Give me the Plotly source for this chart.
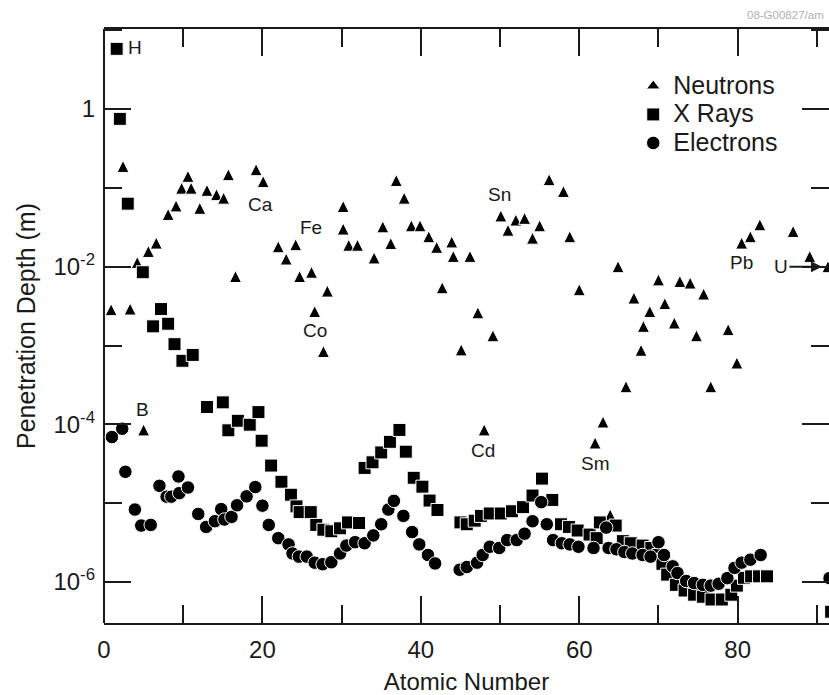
import math
import plotly.graph_objects as go

FONT = "Liberation Sans, Arial, Helvetica, sans-serif"
INK = "#1a1a1a"

# Penetration depth (m) versus atomic number for three kinds of radiation
neutron_z = [0.9, 2.4, 3.3, 4.2, 5.0, 5.6, 6.6, 8.1, 9.1, 9.8, 10.6, 11.0, 12.1, 13.0,
             14.2, 15.1, 15.7, 16.6, 19.2, 20.1, 22.0, 23.0, 24.2, 24.7, 26.2, 26.6,
             27.7, 28.2, 30.2, 30.2, 30.9, 32.0, 34.1, 35.2, 36.2, 36.9, 37.9, 38.8,
             39.9, 41.0, 42.0, 42.7, 43.9, 44.1, 45.1, 46.2, 47.2, 48.0, 49.1, 50.1,
             51.0, 52.0, 53.1, 54.1, 55.0, 56.2, 58.0, 58.8, 60.0, 62.0, 63.0, 63.9,
             64.9, 65.9, 66.9, 67.8, 68.1, 68.9, 70.0, 70.8, 72.0, 72.7, 74.0, 74.8,
             75.7, 76.6, 78.8, 79.9, 80.5, 81.6, 82.8, 87.0, 89.1, 91.4]
neutron_depth = [2.85e-3, 0.187, 2.9e-3, 1.13e-2, 8.5e-5, 1.56e-2, 1.99e-2, 4.6e-2, 5.9e-2,
                 9.9e-2, 0.140, 9.9e-2, 5.5e-2, 9.3e-2, 8.2e-2, 7.4e-2, 0.147, 7.5e-3,
                 0.170, 0.120, 1.79e-2, 1.25e-2, 1.90e-2, 7.5e-3, 8.5e-3, 2.7e-3, 8.4e-4,
                 4.9e-3, 5.8e-2, 3.0e-2, 1.87e-2, 1.87e-2, 1.29e-2, 3.2e-2, 1.97e-2, 0.124,
                 7.4e-2, 3.3e-2, 3.3e-2, 2.4e-2, 1.76e-2, 5.4e-3, 2.06e-2, 1.35e-2, 8.8e-4,
                 1.35e-2, 2.6e-3, 8.5e-5, 1.33e-3, 4.4e-2, 2.9e-2, 3.9e-2, 4.1e-2, 2.3e-2,
                 3.3e-2, 0.127, 9.0e-2, 2.4e-2, 5.1e-3, 5.8e-5, 1.07e-4, 7.1e-6, 1.0e-2,
                 3.0e-4, 4.0e-3, 8.7e-4, 1.75e-3, 2.7e-3, 6.8e-3, 3.4e-3, 1.93e-3, 6.5e-3,
                 6.2e-3, 1.33e-3, 4.5e-3, 3.0e-4, 1.59e-3, 6.0e-4, 1.99e-2, 2.4e-2, 3.4e-2,
                 2.8e-2, 1.35e-2, 1.0e-2]

xray_z = [1.6, 2.0, 3.0, 4.9, 6.2, 7.2, 8.1, 8.9, 9.9, 11.2, 13.0, 15.0, 15.7, 16.9,
          18.4, 19.5, 19.9, 21.1, 22.4, 23.6, 24.3, 24.7, 26.1, 26.8, 27.7, 28.7, 29.8,
          30.8, 32.2, 32.9, 33.9, 35.0, 36.1, 37.3, 38.1, 39.1, 40.2, 41.1, 42.1, 45.0,
          45.8, 46.8, 47.6, 48.7, 50.1, 51.5, 52.9, 54.1, 55.3, 56.6, 57.7, 58.7, 59.8,
          61.3, 62.2, 62.6, 64.6, 65.5, 66.5, 68.0, 69.1, 70.0, 70.5, 71.1, 72.2, 73.3,
          74.5, 75.6, 76.7, 78.0, 79.2, 79.9, 80.8, 81.7, 82.7, 83.7, 91.8]
xray_depth = [5.8, 0.75, 0.063, 8.5e-3, 1.75e-3, 2.9e-3, 1.89e-3, 1.04e-3, 6.4e-4, 7.6e-4,
              1.66e-4, 1.90e-4, 8.4e-5, 1.11e-4, 9.9e-5, 1.43e-4, 6.2e-5, 3.0e-5, 1.87e-5,
              1.28e-5, 9.1e-6, 7.7e-6, 7.7e-6, 5.3e-6, 4.6e-6, 4.4e-6, 4.8e-6, 5.7e-6,
              5.6e-6, 2.8e-5, 3.3e-5, 4.4e-5, 6.0e-5, 8.5e-5, 4.5e-5, 2.1e-5, 1.62e-5,
              1.08e-5, 8.2e-6, 5.7e-6, 5.4e-6, 6.0e-6, 6.9e-6, 7.4e-6, 7.4e-6, 7.9e-6,
              8.9e-6, 1.25e-5, 2.05e-5, 1.10e-5, 5.4e-6, 5.0e-6, 4.5e-6, 4.0e-6, 3.6e-6,
              5.7e-6, 5.2e-6, 3.3e-6, 3.1e-6, 2.9e-6, 2.7e-6, 2.2e-6, 1.70e-6, 1.24e-6,
              9.2e-7, 7.8e-7, 6.9e-7, 6.5e-7, 6.0e-7, 6.0e-7, 6.9e-7, 9.0e-7, 1.13e-6,
              1.18e-6, 1.18e-6, 1.18e-6, 4.2e-7]

electron_z = [1.0, 2.3, 2.7, 3.9, 4.7, 5.9, 7.0, 7.9, 8.5, 9.4, 9.5, 10.6, 11.9, 12.9,
              14.0, 14.8, 15.2, 16.1, 16.8, 18.0, 19.1, 20.0, 20.8, 22.0, 23.3, 23.8,
              24.6, 25.6, 26.6, 27.6, 28.7, 29.8, 30.6, 31.7, 32.9, 34.0, 35.0, 35.9,
              36.6, 37.8, 38.9, 39.8, 40.9, 41.8, 44.9, 45.8, 47.1, 47.8, 48.7, 49.9,
              50.9, 52.1, 53.1, 54.1, 55.2, 55.9, 56.7, 57.8, 58.8, 59.9, 61.8, 63.4,
              63.7, 64.7, 65.7, 66.7, 68.0, 69.0, 70.0, 70.7, 71.8, 72.4, 73.5, 74.5,
              75.6, 76.6, 77.6, 78.7, 79.6, 80.5, 81.6, 82.9, 91.6]
electron_depth = [6.9e-5, 8.8e-5, 2.5e-5, 8.3e-6, 5.2e-6, 5.3e-6, 1.66e-5, 1.21e-5,
                  1.21e-5, 2.18e-5, 1.34e-5, 1.58e-5, 7.3e-6, 5.0e-6, 5.9e-6, 8.4e-6,
                  6.2e-6, 6.7e-6, 9.4e-6, 1.22e-5, 1.60e-5, 9.3e-6, 5.3e-6, 3.6e-6,
                  3.0e-6, 2.3e-6, 2.1e-6, 2.1e-6, 1.76e-6, 1.68e-6, 1.78e-6, 2.3e-6,
                  2.9e-6, 3.2e-6, 3.1e-6, 3.9e-6, 5.4e-6, 8.3e-6, 1.07e-5, 6.9e-6, 4.3e-6,
                  3.0e-6, 2.2e-6, 1.72e-6, 1.43e-6, 1.55e-6, 1.76e-6, 2.2e-6, 2.8e-6,
                  2.7e-6, 3.4e-6, 3.4e-6, 4.1e-6, 5.9e-6, 1.03e-5, 5.4e-6, 3.4e-6, 3.1e-6,
                  3.0e-6, 2.8e-6, 2.7e-6, 4.9e-6, 2.7e-6, 2.6e-6, 2.4e-6, 2.3e-6, 2.2e-6,
                  2.1e-6, 3.2e-6, 2.2e-6, 1.58e-6, 1.30e-6, 1.03e-6, 9.7e-7, 9.2e-7,
                  9.0e-7, 9.5e-7, 1.12e-6, 1.51e-6, 1.76e-6, 1.92e-6, 2.2e-6, 1.12e-6]

# element names written next to selected points
element_names = ["H", "B", "Ca", "Fe", "Co", "Sn", "Cd", "Sm", "Pb"]
element_label_z = [3.9, 4.9, 19.7, 26.1, 26.6, 49.9, 47.9, 62.0, 80.5]
element_label_depth = [6.1, 1.53e-4, 0.061, 0.031, 1.55e-3, 0.082, 4.6e-5, 3.2e-5, 0.0114]

# uranium, marked with an arrow
uranium_z = 91.4
uranium_depth = 1.0e-2

x_major = [0, 20, 40, 60, 80]
y_major = [1e-6, 1e-4, 1e-2, 1]
y_major_text = ["10<sup>-6</sup>", "10<sup>-4</sup>", "10<sup>-2</sup>", "1"]
y_minor = [1e-5, 1e-3, 1e-1, 10]

X_RANGE = [0, 91.53]
Y_RANGE = [-6.52, 1.015]

outline = dict(color="white", width=1)
TRI = 12  # triangle marker size (px)


def legend_name(text):
    return "<span style='font-size:25px'>%s</span>" % text


fig = go.Figure()
# legend entry for the neutron series (plain upright triangle)
fig.add_trace(go.Scatter(
    x=[None], y=[None], mode="markers", name=legend_name("Neutrons"),
    marker=dict(symbol="triangle-up", size=12, color="black", line=outline)))
# an upright, equal-sided triangle: a down-arrow turned over and
# pushed back by half its height so it sits centred on the point
fig.add_trace(go.Scatter(
    x=neutron_z, y=neutron_depth, mode="markers", name="Neutrons", showlegend=False,
    marker=dict(symbol="arrow-down", angle=180, standoff=TRI / 2, size=TRI,
                color="black", line=outline)))
fig.add_trace(go.Scatter(
    x=xray_z, y=xray_depth, mode="markers", name=legend_name("X Rays"),
    marker=dict(symbol="square", size=13, color="black", line=outline)))
fig.add_trace(go.Scatter(
    x=electron_z, y=electron_depth, mode="markers", name=legend_name("Electrons"),
    marker=dict(symbol="circle", size=13.5, color="black", line=outline)))

annotations = []
for name, z, d in zip(element_names, element_label_z, element_label_depth):
    annotations.append(dict(x=z, y=math.log10(d), xref="x", yref="y", text=name,
                            showarrow=False, font=dict(size=19, color=INK)))
annotations.append(dict(x=uranium_z, y=math.log10(uranium_depth), xref="x", yref="y",
                        text="U", showarrow=True, ax=-47, ay=0, arrowhead=2,
                        arrowsize=1.1, arrowwidth=2, arrowcolor=INK, standoff=6,
                        font=dict(size=19, color=INK)))
annotations.append(dict(x=0.8845, y=1.0, xref="paper", yref="paper", yshift=6,
                        xanchor="left", yanchor="bottom", text="08-G00827/am",
                        showarrow=False, font=dict(size=11.5, color="#b0b0b0")))

tick_style = dict(ticks="inside", tickwidth=2, tickcolor=INK)

fig.update_layout(
    width=829, height=695,
    margin=dict(l=104, r=0, t=29, b=72),
    paper_bgcolor="white", plot_bgcolor="white",
    font=dict(family=FONT, size=24, color=INK),
    showlegend=True,
    legend=dict(x=0.73, y=0.9365, xanchor="left", yanchor="top",
                bgcolor="rgba(0,0,0,0)", font=dict(size=19.6),
                itemsizing="trace", tracegroupgap=0),
    annotations=annotations,
    # bottom line + top mirror; the left edge is drawn by the x zero line so that
    # the right edge only carries tick marks
    xaxis=dict(range=X_RANGE, showline=True, linecolor=INK, linewidth=2,
               mirror="ticks", ticklen=27, tickvals=x_major, showgrid=False,
               zeroline=True, zerolinecolor=INK, zerolinewidth=2,
               tickfont=dict(size=24), ticklabelstandoff=4,
               minor=dict(dtick=10, tick0=0, ticklen=18, **tick_style),
               title=dict(text="Atomic Number", font=dict(size=24), standoff=14),
               **tick_style),
    yaxis=dict(type="log", range=Y_RANGE, showline=False,
               mirror="ticks", ticklen=27, tickvals=y_major, ticktext=y_major_text,
               showgrid=False, zeroline=False, tickfont=dict(size=24),
               ticklabelstandoff=8,
               minor=dict(tickvals=y_minor, ticklen=18, **tick_style),
               title=dict(text="Penetration Depth (m)", font=dict(size=25), standoff=10),
               **tick_style),
)

fig.write_html("out.html")
